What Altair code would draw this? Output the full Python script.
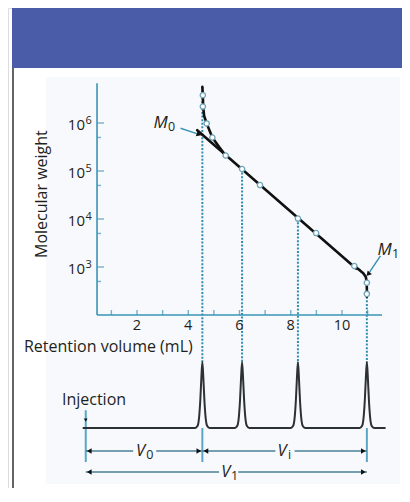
import altair as alt
import pandas as pd

# ---------------- data ----------------
# calibration standards: retention volume (mL) and molecular weight
cal_vol = [4.57, 4.57, 4.72, 4.94, 5.46, 6.10, 6.80, 8.28, 8.99, 10.48, 10.97, 10.97]
cal_mw = [3.8e6, 2.2e6, 9.8e5, 5.0e5, 2.1e5, 1.1e5, 5.1e4, 1.02e4, 5.1e3, 1.05e3, 4.7e2, 2.75e2]

# calibration curve: exclusion branch, linear part, permeation branch
curve_top_vol = [4.55, 4.57, 4.58, 4.62, 4.72, 4.94, 5.20, 5.46]
curve_top_mw = [5.7e6, 3.8e6, 2.2e6, 1.4e6, 9.8e5, 5.0e5, 3.2e5, 2.1e5]
line_vol = [4.35, 10.55]
line_mw = [7.1e5, 9.3e2]
curve_bot_vol = [10.48, 10.70, 10.83, 10.93, 10.96, 10.97, 10.97]
curve_bot_mw = [1.05e3, 8.5e2, 7.4e2, 6.2e2, 5.0e2, 3.55e2, 2.4e2]

# chromatogram peaks (retention volume, relative height)
peak_vol = [4.55, 6.10, 8.28, 10.97]
peak_height = [1.0, 1.0, 1.0, 1.0]
peak_top_mw = [5.7e6, 1.1e5, 1.02e4, 2.4e2]   # where the dotted guides leave the curve
profile_dv = [-0.28, -0.19, -0.13, -0.08, -0.04, 0.0, 0.04, 0.08, 0.13, 0.19, 0.28]
profile_h = [0.0, 0.03, 0.15, 0.42, 0.75, 1.0, 0.75, 0.42, 0.15, 0.03, 0.0]
baseline_vol = [-0.12, 11.70]
injection_vol = 0.0

# axis ticks
x_ticks = [1, 2, 3, 4, 5, 6, 7, 8, 9, 10, 11]
x_tick_labels = ["2", "4", "6", "8", "10"]
y_major = [1e3, 1e4, 1e5, 1e6]
y_minor = [5e2, 5e3, 5e4, 5e5]
y_exponents = ["3", "4", "5", "6"]

# ---------------- scales / layout ----------------
W, H = 394, 480
XMIN, XMAX = -3.034, 12.341
MWMIN, MWMAX = 10 ** -1.604, 10 ** 8.396
SMIN, SMAX = -0.909, 6.364
AX0 = 0.44          # retention volume where the y axis stands
AX1 = 11.56
MWAX = 100.0         # molecular weight where the x axis stands
MWTOP = 10 ** 6.83

TEAL = "#3a94b6"
DARK = "#231f20"
FONT = "Open Sans"


def X(f):
    return alt.X(f, type="quantitative", axis=None,
                 scale=alt.Scale(domain=[XMIN, XMAX], nice=False, zero=False))


def YT(f):
    return alt.Y(f, type="quantitative", axis=None,
                 scale=alt.Scale(type="log", domain=[MWMIN, MWMAX], nice=False))


def YB(f):
    return alt.Y(f, type="quantitative", axis=None,
                 scale=alt.Scale(domain=[SMIN, SMAX], nice=False, zero=False))


# ---------------- tables ----------------
cal = pd.DataFrame({"v": cal_vol, "mw": cal_mw})

curve_rows = []
for name, vs, ms in [("top", curve_top_vol, curve_top_mw),
                     ("line", line_vol, line_mw),
                     ("bot", curve_bot_vol, curve_bot_mw)]:
    for i, (v, m) in enumerate(zip(vs, ms)):
        curve_rows.append({"seg": name, "i": i, "v": v, "mw": m})
curve = pd.DataFrame(curve_rows)

guides = pd.DataFrame({"v": peak_vol, "mw": peak_top_mw, "mw2": [10.0] * 4})

chrom_rows = [{"v": baseline_vol[0], "s": 0.0}]
for pv, ph in zip(peak_vol, peak_height):
    for dv, h in zip(profile_dv, profile_h):
        chrom_rows.append({"v": pv + dv, "s": ph * h})
chrom_rows.append({"v": baseline_vol[1], "s": 0.0})
chrom = pd.DataFrame(chrom_rows)
chrom["i"] = range(len(chrom))

axes_lines = pd.DataFrame({"v": [AX0, AX0], "v2": [AX0, AX1],
                           "mw": [MWAX, MWAX], "mw2": [MWTOP, MWAX]})
xt = pd.DataFrame({"v": x_ticks, "mw": [MWAX] * len(x_ticks)})
xl = pd.DataFrame({"v": [2, 4, 6, 8, 10], "mw": [MWAX] * 5, "t": x_tick_labels})
ytmaj = pd.DataFrame({"v": [AX0] * 4, "mw": y_major, "e": y_exponents})
ytmin = pd.DataFrame({"v": [AX0] * 4, "mw": y_minor})

# vertical markers under the chromatogram
marks_v = pd.DataFrame({"v": [injection_vol, peak_vol[0], peak_vol[-1]],
                        "s": [0.27, 0.0, 0.0], "s2": [-0.515, -0.515, -0.515]})

# dimension arrows: segments (gap for the label), heads and labels
ROW1, ROW2 = -0.348, -0.667
arrow_seg = pd.DataFrame({
    "v": [0.0, 2.75, 4.55, 8.15, 0.0, 5.95],
    "v2": [1.85, 4.55, 7.40, 10.97, 5.20, 10.97],
    "s": [ROW1, ROW1, ROW1, ROW1, ROW2, ROW2],
})
heads_left = pd.DataFrame({"v": [0.0, 4.55, 0.0], "s": [ROW1, ROW1, ROW2]})
heads_right = pd.DataFrame({"v": [4.55, 10.97, 10.97], "s": [ROW1, ROW1, ROW2]})
vlabels = pd.DataFrame({"v": [2.14, 7.66, 5.46], "vs": [2.50, 7.95, 5.81],
                        "s": [ROW1, ROW1, ROW2],
                        "main": ["V", "V", "V"], "sub": ["0", "i", "1"]})

# M0 / M1 annotations
m_lines = pd.DataFrame({"v": [3.70, 11.50], "v2": [4.33, 11.08],
                        "mw": [7.8e5, 1.7e3], "mw2": [6.0e5, 7.9e2]})
m_head = pd.DataFrame({"v": [4.42, 11.02], "mw": [5.8e5, 7.1e2], "ang": [19, 132]})
m_labels = pd.DataFrame({"v": [2.92, 11.66], "mw": [1.0e6, 2.26e3],
                         "main": ["M", "M"], "sub": ["0", "1"]})

titles = pd.DataFrame({"v": [-2.41], "mw": [21.5], "t": ["Retention volume (mL)"]})
ytitle = pd.DataFrame({"v": [-1.71], "mw": [3.3e4], "t": ["Molecular weight"]})
inj = pd.DataFrame({"v": [-0.93], "s": [0.42], "t": ["Injection"]})
inj_head = pd.DataFrame({"v": [injection_vol], "s": [0.12]})

# ---------------- layers ----------------
dummy = pd.DataFrame({"a": [0]})
header = alt.Chart(dummy).mark_rect(color="#4a5ca8").encode(
    x=alt.value(4), x2=alt.value(W), y=alt.value(0), y2=alt.value(60))
panel_bg = alt.Chart(dummy).mark_rect(color="#f8f9fc").encode(
    x=alt.value(38), x2=alt.value(W - 2), y=alt.value(69), y2=alt.value(H - 4))
border = alt.Chart(dummy).mark_rule(color="#111111", strokeWidth=1.3).encode(
    x=alt.value(5), y=alt.value(60), y2=alt.value(H))

axis_l = alt.Chart(axes_lines).mark_rule(color=TEAL, strokeWidth=1.6).encode(
    x=X("v"), x2="v2", y=YT("mw"), y2="mw2")
xtick_l = alt.Chart(xt).mark_tick(orient="vertical", color=TEAL, size=5, thickness=1.4,
                                  yOffset=-2.5).encode(x=X("v"), y=YT("mw"))
ymaj_l = alt.Chart(ytmaj).mark_tick(orient="horizontal", color=TEAL, size=7, thickness=1.4,
                                    xOffset=3.5).encode(x=X("v"), y=YT("mw"))
ymin_l = alt.Chart(ytmin).mark_tick(orient="horizontal", color=TEAL, size=4, thickness=1.4,
                                    xOffset=2).encode(x=X("v"), y=YT("mw"))
xlab_l = alt.Chart(xl).mark_text(font=FONT, fontSize=14.5, color=DARK, dy=10.5,
                                 baseline="middle").encode(x=X("v"), y=YT("mw"), text="t:N")
ylab10_l = alt.Chart(ytmaj).mark_text(font=FONT, fontSize=15, color=DARK, align="right",
                                      dx=-12, dy=1.5, baseline="middle",
                                      text="10").encode(x=X("v"), y=YT("mw"))
ylabexp_l = alt.Chart(ytmaj).mark_text(font=FONT, fontSize=11, color=DARK, align="left",
                                       dx=-11.5, dy=-2, baseline="middle").encode(
    x=X("v"), y=YT("mw"), text="e:N")
xtitle_l = alt.Chart(titles).mark_text(font=FONT, fontSize=16, color=DARK, align="left",
                                       baseline="middle").encode(x=X("v"), y=YT("mw"), text="t:N")
ytitle_l = alt.Chart(ytitle).mark_text(font=FONT, fontSize=16, color=DARK, angle=270,
                                       baseline="middle").encode(x=X("v"), y=YT("mw"), text="t:N")

guide_l = alt.Chart(guides).mark_rule(color="#2f8db2", strokeWidth=2,
                                      strokeDash=[2, 1.6]).encode(
    x=X("v"), y=YT("mw"), y2="mw2")

curve_l = alt.Chart(curve).mark_line(color="#111111", strokeWidth=2.6,
                                     strokeCap="round", strokeJoin="round").encode(
    x=X("v"), y=YT("mw"), detail="seg:N", order="i:Q")
pts_l = alt.Chart(cal).mark_point(shape="circle", filled=False, fill="white", fillOpacity=1,
                                  stroke="#6fa3b7", strokeWidth=1.3, size=28, opacity=1).encode(
    x=X("v"), y=YT("mw"))

mline_l = alt.Chart(m_lines).mark_rule(color=TEAL, strokeWidth=1.5).encode(
    x=X("v"), x2="v2", y=YT("mw"), y2="mw2")
mhead_l = alt.Chart(m_head).mark_point(shape="triangle-right", filled=True, color="#111111",
                                       size=32, opacity=1).encode(
    x=X("v"), y=YT("mw"), angle=alt.Angle("ang:Q", scale=None))
mmain_l = alt.Chart(m_labels).mark_text(font=FONT, fontSize=17, fontStyle="italic", color=DARK,
                                        baseline="middle").encode(x=X("v"), y=YT("mw"), text="main:N")
msub_l = alt.Chart(m_labels).mark_text(font=FONT, fontSize=12.5, color=DARK, dx=11, dy=4,
                                       baseline="middle").encode(x=X("v"), y=YT("mw"), text="sub:N")

chrom_l = alt.Chart(chrom).mark_line(color="#2b3134", strokeWidth=2, interpolate="monotone").encode(
    x=X("v"), y=YB("s"), order="i:Q")
vmark_l = alt.Chart(marks_v).mark_rule(color="#5aa6c6", strokeWidth=2).encode(
    x=X("v"), y=YB("s"), y2="s2")
aseg_l = alt.Chart(arrow_seg).mark_rule(color="#4a7f94", strokeWidth=1.5).encode(
    x=X("v"), x2="v2", y=YB("s"))
hl_l = alt.Chart(heads_left).mark_point(shape="triangle-left", filled=True, color="#111111",
                                        size=30, opacity=1, xOffset=3.5).encode(x=X("v"), y=YB("s"))
hr_l = alt.Chart(heads_right).mark_point(shape="triangle-right", filled=True, color="#111111",
                                         size=30, opacity=1, xOffset=-3.5).encode(x=X("v"), y=YB("s"))
vmain_l = alt.Chart(vlabels).mark_text(font=FONT, fontSize=16.5, fontStyle="italic", color=DARK,
                                       baseline="middle").encode(x=X("v"), y=YB("s"), text="main:N")
vsub_l = alt.Chart(vlabels).mark_text(font=FONT, fontSize=12.5, color=DARK, dy=4,
                                      baseline="middle").encode(x=X("vs"), y=YB("s"), text="sub:N")
inj_l = alt.Chart(inj).mark_text(font=FONT, fontSize=16, color=DARK, align="left",
                                 baseline="middle").encode(x=X("v"), y=YB("s"), text="t:N")
injh_l = alt.Chart(inj_head).mark_point(shape="triangle-down", filled=True, color="#111111",
                                        size=14, opacity=1).encode(x=X("v"), y=YB("s"))

chart = alt.layer(
    header, panel_bg, border,
    guide_l, axis_l, xtick_l, ymaj_l, ymin_l, xlab_l, ylab10_l, ylabexp_l, xtitle_l, ytitle_l,
    curve_l, pts_l, mline_l, mhead_l, mmain_l, msub_l,
    vmark_l, chrom_l, aseg_l, hl_l, hr_l, vmain_l, vsub_l, inj_l, injh_l,
).resolve_scale(y="independent").properties(
    width=W, height=H, padding=0, autosize=alt.AutoSizeParams(type="none")
).configure_view(stroke=None, fill="white").configure(background="white")

chart.save("out.html", embed_options={"renderer": "svg", "actions": False})
